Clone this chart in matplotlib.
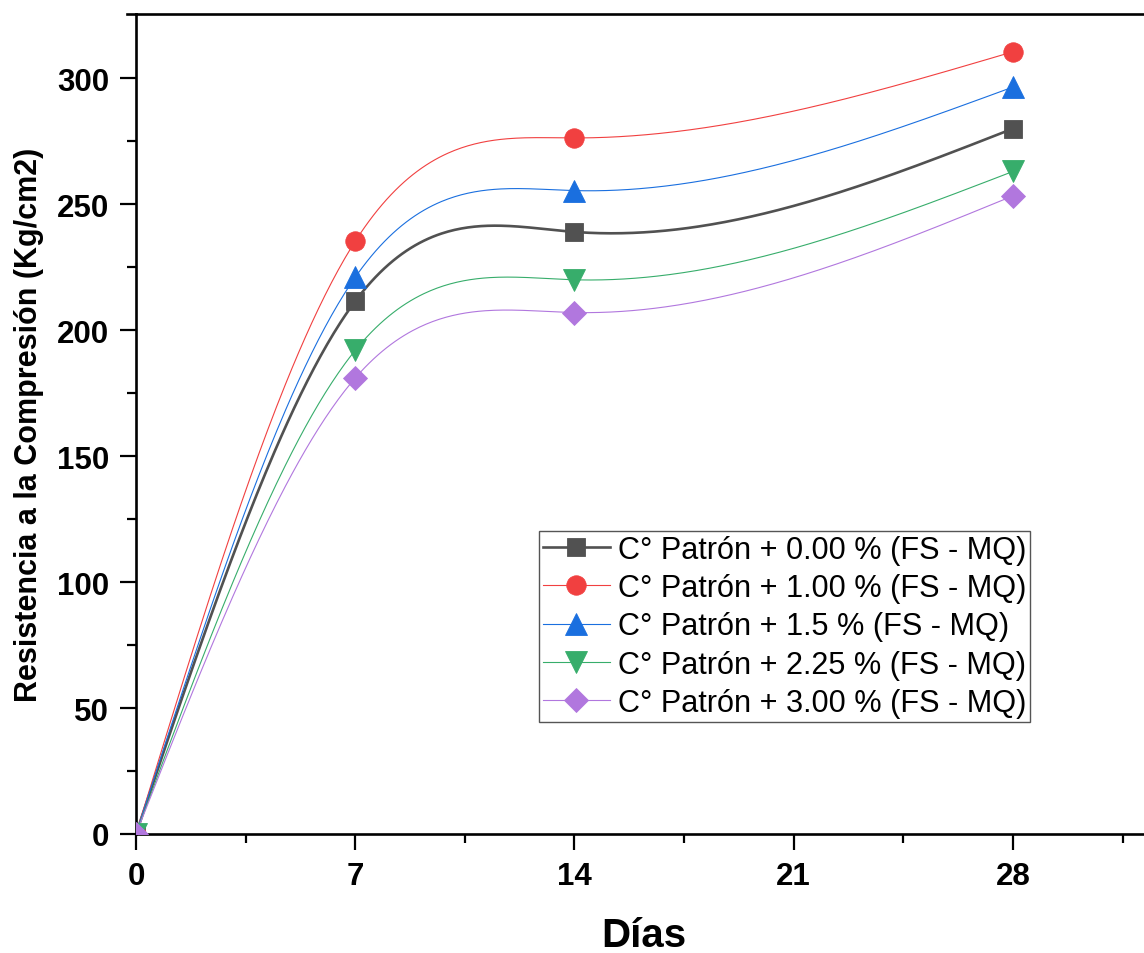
import numpy as np
import matplotlib
matplotlib.use("Agg")
import matplotlib.pyplot as plt
from matplotlib.lines import Line2D

# ---- data -------------------------------------------------------------
dias = [0, 7, 14, 28]
labels = [
    "C° Patrón + 0.00 % (FS - MQ)",
    "C° Patrón + 1.00 % (FS - MQ)",
    "C° Patrón + 1.5 % (FS - MQ)",
    "C° Patrón + 2.25 % (FS - MQ)",
    "C° Patrón + 3.00 % (FS - MQ)",
]
fs_000 = [0, 211.5, 239.0, 280.0]
fs_100 = [0, 235.3, 276.3, 310.5]
fs_150 = [0, 221.0, 255.4, 296.5]
fs_225 = [0, 192.0, 220.0, 263.0]
fs_300 = [0, 181.0, 207.0, 253.3]
series = [fs_000, fs_100, fs_150, fs_225, fs_300]

x_ticks = [0, 7, 14, 21, 28]
y_ticks = [0, 50, 100, 150, 200, 250, 300]

# ---- style ------------------------------------------------------------
colors = ["#515151", "#F14040", "#1A6FDF", "#37AD6B", "#B177DE"]
markers = ["s", "o", "^", "v", "D"]
msizes = [13, 14, 16, 16, 12]
lwidths = [1.9, 0.8, 0.8, 0.8, 0.8]


def natural_spline(x, y, xs):
    """Natural cubic spline through (x, y), evaluated at xs."""
    x = np.asarray(x, float)
    y = np.asarray(y, float)
    n = len(x)
    h = np.diff(x)
    A = np.zeros((n, n))
    b = np.zeros(n)
    A[0, 0] = 1.0
    A[-1, -1] = 1.0
    for i in range(1, n - 1):
        A[i, i - 1] = h[i - 1]
        A[i, i] = 2 * (h[i - 1] + h[i])
        A[i, i + 1] = h[i]
        b[i] = 6 * ((y[i + 1] - y[i]) / h[i] - (y[i] - y[i - 1]) / h[i - 1])
    M = np.linalg.solve(A, b)
    idx = np.clip(np.searchsorted(x, xs) - 1, 0, n - 2)
    x0, x1 = x[idx], x[idx + 1]
    hh = x1 - x0
    t0 = x1 - xs
    t1 = xs - x0
    return (M[idx] * t0 ** 3 / (6 * hh) + M[idx + 1] * t1 ** 3 / (6 * hh)
            + (y[idx] / hh - M[idx] * hh / 6) * t0
            + (y[idx + 1] / hh - M[idx + 1] * hh / 6) * t1)


plt.rcParams["font.family"] = ["Liberation Sans", "DejaVu Sans"]

W, H = 1144, 954
fig = plt.figure(figsize=(W / 100, H / 100), dpi=100)
x_max = 32.5
left_px, right_px = 136, 136 + 31.32 * x_max
bottom_px, top_px = 835, 15
ax = fig.add_axes([left_px / W, 1 - bottom_px / H,
                   (right_px - left_px) / W, (bottom_px - top_px) / H])

xs = np.linspace(dias[0], dias[-1], 400)
for vals, lab, c, m, ms, lw in zip(series, labels, colors, markers, msizes, lwidths):
    ax.plot(xs, natural_spline(dias, vals, xs), color=c, lw=lw, zorder=2)
    ax.plot(dias, vals, linestyle="none", marker=m, ms=ms, color=c,
            mec=c, mew=0.6, zorder=3)
    # legend proxy: line + marker
    ax.plot([], [], color=c, lw=lw, marker=m, ms=ms, mec=c, mew=0.6, label=lab)

ax.set_xlim(0, x_max)
ax.set_ylim(0, 325.5)
ax.set_xticks(x_ticks)
ax.set_yticks(y_ticks)
ax.set_xticks(np.arange(3.5, x_max, 7), minor=True)
ax.set_yticks(np.arange(25, 325, 50), minor=True)

ax.spines["right"].set_visible(False)
for s in ("left", "bottom", "top"):
    ax.spines[s].set_linewidth(1.9)
ax.tick_params(which="major", direction="out", length=11.5, width=1.6,
               labelsize=22.5, pad=8)
ax.tick_params(which="minor", direction="out", length=6.3, width=1.6)
for lab in ax.get_xticklabels() + ax.get_yticklabels():
    lab.set_fontweight("bold")

# top frame line continues a little past the left axis
fig.add_artist(Line2D([127 / W, left_px / W], [1 - top_px / H, 1 - top_px / H],
                      color="black", lw=1.9, transform=fig.transFigure))

ax.set_ylabel("Resistencia a la Compresión (Kg/cm2)", fontsize=22,
              fontweight="bold", labelpad=9)
fig.text(644 / W, 1 - 947 / H, "Días", fontsize=29, fontweight="bold",
         ha="center", va="baseline")

leg = ax.legend(loc="upper left",
                bbox_to_anchor=(539 / W, 1 - 532 / H),
                bbox_transform=fig.transFigure,
                fontsize=22.1, frameon=True, fancybox=False, framealpha=1,
                edgecolor="#555555", borderpad=0.12, labelspacing=0.27,
                handlelength=2.2, handletextpad=0.25, borderaxespad=0)
leg.get_frame().set_linewidth(1.0)

fig.savefig("out.png", dpi=100)
